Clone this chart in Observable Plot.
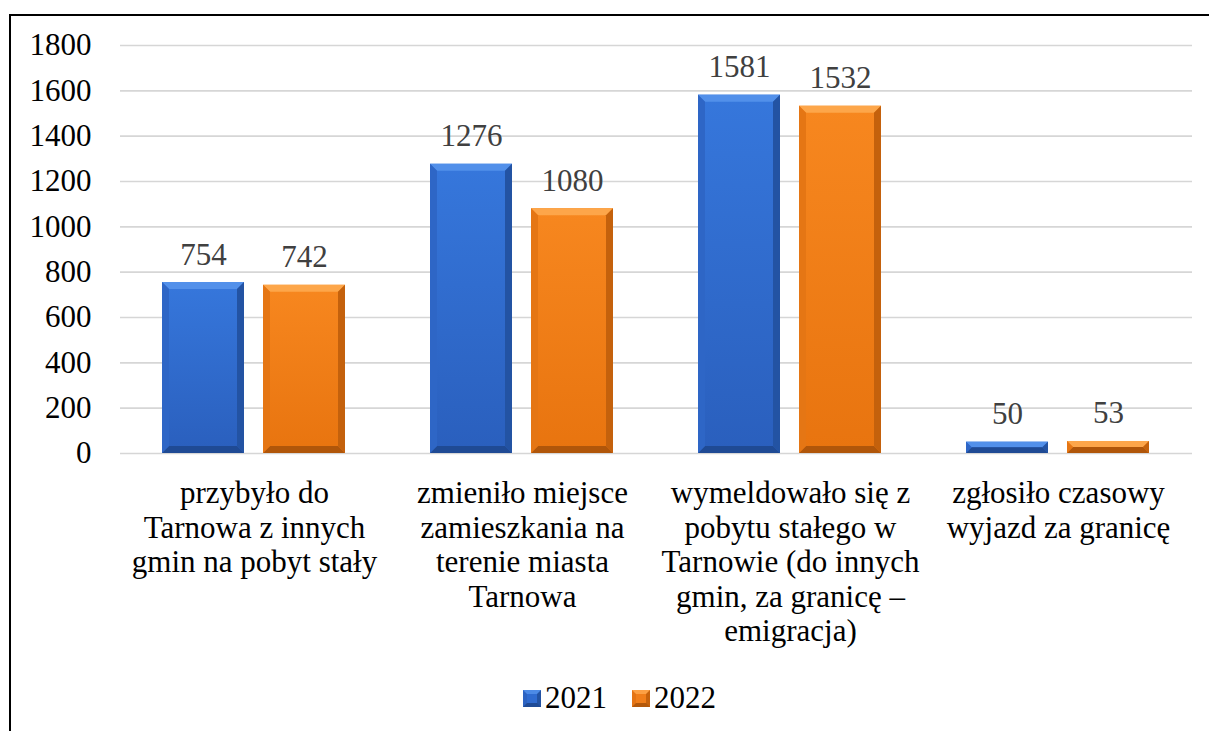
<!DOCTYPE html>
<html>
<head>
<meta charset="utf-8">
<script src="https://cdn.jsdelivr.net/npm/d3@7"></script>
<script src="https://cdn.jsdelivr.net/npm/@observablehq/plot@0.6"></script>
<style>
  html, body { margin: 0; padding: 0; background: #fff; overflow: hidden; }
  #wrap { position: relative; width: 1209px; height: 731px; font-family: "Times New Roman", Times, Tinos, "Liberation Serif", "Nimbus Roman", FreeSerif, "DejaVu Serif", serif; }
  #frame { position: absolute; left: 9px; top: 14px; right: -5px; bottom: -5px; border-top: 2px solid #000; border-left: 2px solid #000; pointer-events: none; }
  #chart svg { display: block; }
  #legend { display: flex; justify-content: center; align-items: center; width: 1209px; padding-left: 30px; box-sizing: border-box; height: 36px; margin-top: 5px; font-size: 31px; color: #000; line-height: 36px; }
  .item { display: flex; align-items: center; }
  .sw { display: inline-block; width: 10px; height: 9px; border-style: solid; border-width: 4px; margin-right: 4px; }
  .sw.b { background: #2f6bd0; border-color: #4c8ae6 #2353a3 #1f4b96 #2c63c2; }
  .sw.o { background: #f07e1a; border-color: #fca044 #c6620c #b3580a #e47414; }
</style>
</head>
<body>
<div id="wrap">
  <div id="chart"></div>
  <div id="legend"></div>
  <div id="frame"></div>
</div>
<script>
// ---- data ----
const categories = [
  "przybyło do\nTarnowa z innych\ngmin na pobyt stały",
  "zmieniło miejsce\nzamieszkania na\nterenie miasta\nTarnowa",
  "wymeldowało się z\npobytu stałego w\nTarnowie (do innych\ngmin, za granicę –\nemigracja)",
  "zgłosiło czasowy\nwyjazd za granicę"
];
const years = ["2021", "2022"];
const values2021 = [754, 1276, 1581, 50];
const values2022 = [742, 1080, 1532, 53];
const yTicks = [0, 200, 400, 600, 800, 1000, 1200, 1400, 1600, 1800];
const yearColors = ["#2f6bd0", "#f07e1a"];

const data = [];
categories.forEach((c, i) => {
  data.push({cat: c, year: years[0], value: values2021[i]});
  data.push({cat: c, year: years[1], value: values2022[i]});
});
const catData = categories.map(c => ({cat: c}));

const FONT = "'Times New Roman', Times, Tinos, 'Liberation Serif', 'Nimbus Roman', FreeSerif, 'DejaVu Serif', serif";

const chart = Plot.plot({
  width: 1209,
  height: 675,
  marginLeft: 119,
  marginRight: 17,
  marginTop: 45,
  marginBottom: 222,
  style: {fontFamily: FONT, fontSize: "31px", background: "transparent", overflow: "visible", color: "#000"},
  fx: {domain: categories, padding: 0, axis: null},
  x: {domain: years, paddingInner: 0.186, paddingOuter: 0.407, axis: null},
  y: {domain: [0, 1800], axis: null, label: null},
  color: {domain: years, range: yearColors},
  marks: [
    Plot.ruleY(yTicks, {stroke: "#d6d6d6", strokeWidth: 1.6}),
    Plot.barY(data, {fx: "cat", x: "year", y: "value", fill: "year"}),
    Plot.text(data, {fx: "cat", x: "year", y: "value", text: d => String(d.value), lineAnchor: "bottom", dy: -18, fill: "#404040", fontSize: 31, fontFamily: FONT}),
    Plot.text(catData, {fx: "cat", frameAnchor: "bottom", text: "cat", lineAnchor: "top", dy: 25, lineHeight: 1.116, fill: "#000", fontSize: 31, fontFamily: FONT}),
    Plot.axisY({ticks: yTicks, tickSize: 0, tickPadding: 29, fontSize: 31, fill: "#000", label: null, tickFormat: d => String(d), fontFamily: FONT})
  ]
});

document.getElementById("chart").appendChild(chart);

// ---- bevel decoration derived from Plot's rendered bars ----
const ns = "http://www.w3.org/2000/svg";
const svg = chart.tagName.toLowerCase() === "svg" ? chart : chart.querySelector("svg");
const defs = document.createElementNS(ns, "defs");
const faces = {
  "2021": {top: "#3677dc", bot: "#2a5fbd", edgeT: "#5290ea", edgeL: "#2e66c6", edgeR: "#2353a3", edgeB: "#1f4a94"},
  "2022": {top: "#f7871f", bot: "#e8740f", edgeT: "#fda64a", edgeL: "#e57614", edgeR: "#c4610c", edgeB: "#b0560a"}
};
years.forEach((y, i) => {
  const g = document.createElementNS(ns, "linearGradient");
  g.setAttribute("id", "face" + y);
  g.setAttribute("x1", "0"); g.setAttribute("y1", "0"); g.setAttribute("x2", "0"); g.setAttribute("y2", "1");
  [["0", faces[y].top], ["1", faces[y].bot]].forEach(([o, c]) => {
    const s = document.createElementNS(ns, "stop");
    s.setAttribute("offset", o); s.setAttribute("stop-color", c);
    g.appendChild(s);
  });
  defs.appendChild(g);
});
svg.insertBefore(defs, svg.firstChild);

const colorToYear = {};
years.forEach((y, i) => colorToYear[d3.color(yearColors[i]).formatHex()] = y);

svg.querySelectorAll('g[aria-label="bar"] rect').forEach(r => {
  const x = +r.getAttribute("x"), y = +r.getAttribute("y");
  const w = +r.getAttribute("width"), h = +r.getAttribute("height");
  const fc = r.getAttribute("fill");
  const yr = colorToYear[d3.color(fc).formatHex()] || years[0];
  const f = faces[yr];
  r.setAttribute("fill", "url(#face" + yr + ")");
  const b = Math.min(7, h / 2, w / 2);
  const polys = [
    [[x, y], [x + w, y], [x + w - b, y + b], [x + b, y + b], f.edgeT],
    [[x, y + h], [x + w, y + h], [x + w - b, y + h - b], [x + b, y + h - b], f.edgeB],
    [[x, y], [x + b, y + b], [x + b, y + h - b], [x, y + h], f.edgeL],
    [[x + w, y], [x + w - b, y + b], [x + w - b, y + h - b], [x + w, y + h], f.edgeR]
  ];
  const parent = r.parentNode;
  const next = r.nextSibling;
  polys.forEach(p => {
    const el = document.createElementNS(ns, "polygon");
    el.setAttribute("points", p.slice(0, 4).map(q => q.join(",")).join(" "));
    el.setAttribute("fill", p[4]);
    const tr = r.getAttribute("transform");
    if (tr) el.setAttribute("transform", tr);
    parent.insertBefore(el, next);
  });
});

// ---- legend ----
const legend = document.getElementById("legend");
years.forEach((y, i) => {
  const item = document.createElement("div");
  item.className = "item";
  if (i > 0) item.style.marginLeft = "25px";
  const sw = document.createElement("span");
  sw.className = "sw " + (i === 0 ? "b" : "o");
  const t = document.createElement("span");
  t.textContent = y;
  item.appendChild(sw); item.appendChild(t);
  legend.appendChild(item);
});
</script>
</body>
</html>
